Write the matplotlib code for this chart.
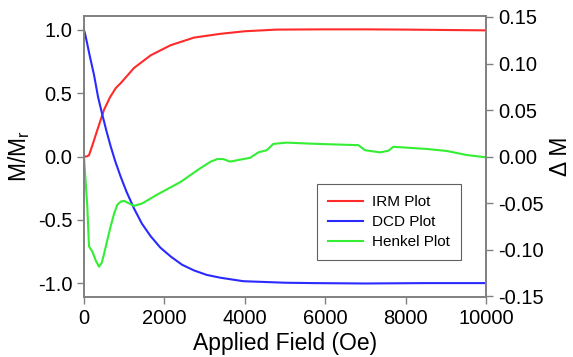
"""
IRM / DCD / Henkel plot recreation
"""

import numpy as np
import matplotlib.pyplot as plt

plt.rcParams["font.family"] = ["Liberation Sans", "DejaVu Sans"]

#IRM curve (M/Mr)
irm_field = [0, 60, 124, 220, 332, 498, 650, 788, 913, 1244, 1659, 2157, 2737, 3401, 4000, 4793, 6000, 7000, 8000, 9000, 10000]
irm_vals = [0.0, 0.0, 0.01, 0.10, 0.21, 0.37, 0.47, 0.54, 0.58, 0.70, 0.80, 0.88, 0.94, 0.97, 0.99, 1.003, 1.005, 1.005, 1.003, 1.0, 0.997]

#DCD curve (M/Mr)
dcd_field = [0, 41, 140, 249, 350, 456, 560, 664, 780, 913, 1060, 1244, 1440, 1659, 1900, 2157, 2440, 2737, 3050, 3401, 3963, 5000, 5700, 7000, 8500, 10000]
dcd_vals = [1.0, 0.95, 0.80, 0.645, 0.47, 0.33, 0.20, 0.08, -0.04, -0.16, -0.28, -0.41, -0.53, -0.63, -0.72, -0.79, -0.855, -0.90, -0.935, -0.958, -0.985, -0.997, -1.0, -1.003, -1.0, -1.0]

#Henkel curve (plotted on M/Mr scale)
henkel_field = [0, 25, 83, 124, 207, 290, 373, 440, 498, 580, 664, 750, 830, 920, 995, 1120, 1244, 1451, 1825, 2406, 2886,
                3152, 3320, 3466, 3632, 4130, 4337, 4545, 4710, 5043, 5790, 6825, 6991, 7364, 7571, 7696, 8526, 9024, 9522, 10000]
henkel_vals = [0.0, -0.12, -0.40, -0.71, -0.75, -0.82, -0.87, -0.84, -0.77, -0.66, -0.55, -0.45, -0.38, -0.355, -0.35, -0.37, -0.39, -0.37, -0.30, -0.20, -0.094,
               -0.04, -0.02, -0.02, -0.04, -0.01, 0.033, 0.05, 0.10, 0.11, 0.10, 0.09, 0.05, 0.033, 0.046, 0.077, 0.06, 0.044, 0.012, -0.006]

fig = plt.figure(figsize=(5.73, 3.57), dpi=100)
ax = fig.add_axes([0.1466, 0.168, 0.7016, 0.787])

ax.plot(irm_field, irm_vals, color="#ff2a2a", lw=1.5, label="IRM Plot")
ax.plot(dcd_field, dcd_vals, color="#2a2aff", lw=1.5, label="DCD Plot")
ax.plot(henkel_field, henkel_vals, color="#33ee33", lw=1.5, label="Henkel Plot")

ax.set_xlim(0, 10000)
ax.set_ylim(-1.11, 1.11)
ax.set_xticks(np.arange(0, 10001, 2000))
ax.set_yticks([-1.0, -0.5, 0.0, 0.5, 1.0])
ax.set_yticklabels(["-1.0", "-0.5", "0.0", "0.5", "1.0"])
ax.set_xlabel("Applied Field (Oe)", fontsize=16.5, labelpad=3)
ax.set_ylabel("M/M$_\\mathregular{r}$", fontsize=16.5)

ax2 = ax.twinx()
ax2.set_ylim(-0.151, 0.151)
ax2.set_yticks([-0.15, -0.10, -0.05, 0.0, 0.05, 0.10, 0.15])
ax2.set_yticklabels(["-0.15", "-0.10", "-0.05", "0.00", "0.05", "0.10", "0.15"])
ax2.set_ylabel("\u0394 M", fontsize=16.5)

for a in [ax, ax2]:
    for s in a.spines.values():
        s.set_color("#808080")
        s.set_linewidth(1.2)
    a.tick_params(colors="#808080", labelcolor="black", labelsize=14.5, length=5, width=1)

leg = ax.legend(loc="lower left", bbox_to_anchor=(0.58, 0.132), borderaxespad=0, fontsize=11, fancybox=False,
                edgecolor="#606060", framealpha=1, handlelength=2.3, handletextpad=0.6, borderpad=0.7, labelspacing=0.4)
leg.get_frame().set_linewidth(0.8)

plt.savefig("out.png", dpi=100)
